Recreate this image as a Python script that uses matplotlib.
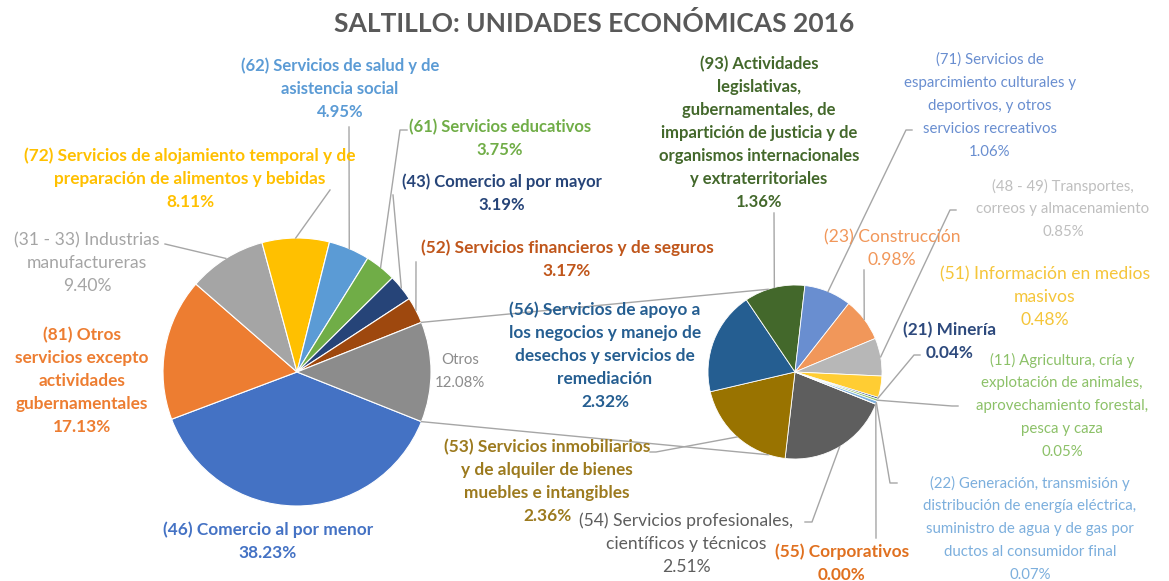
import numpy as np
import matplotlib.pyplot as plt

plt.rcParams['font.family'] = ['Lato', 'DejaVu Sans']

W, H = 1169, 581

# pastel principal (sentido horario, empezando bajo "Otros")
main_names = [
    '(46) Comercio al por menor',
    '(81) Otros\nservicios excepto\nactividades\ngubernamentales',
    '(31 - 33) Industrias\nmanufactureras',
    '(72) Servicios de alojamiento temporal y de\npreparación de alimentos y bebidas',
    '(62) Servicios de salud y de\nasistencia social',
    '(61) Servicios educativos',
    '(43) Comercio al por mayor',
    '(52) Servicios financieros y de seguros',
]
main_vals = [38.23, 17.13, 9.40, 8.11, 4.95, 3.75, 3.19, 3.17]
main_colors = ['#4472C4', '#ED7D31', '#A5A5A5', '#FFC000',
               '#5B9BD5', '#70AD47', '#264478', '#9E480E']
main_text_colors = ['#4472C4', '#ED7D31', '#A5A5A5', '#FFC000',
                    '#5B9BD5', '#70AD47', '#264478', '#C0561B']

otros_name = 'Otros'
otros_color = '#8C8C8C'

# pastel secundario: desglose de "Otros"
sec_names = [
    '(54) Servicios profesionales,\ncientíficos y técnicos',
    '(53) Servicios inmobiliarios\ny de alquiler de bienes\nmuebles e intangibles',
    '(56) Servicios de apoyo a\nlos negocios y manejo de\ndesechos y servicios de\nremediación',
    '(93) Actividades\nlegislativas,\ngubernamentales, de\nimpartición de justicia y de\norganismos internacionales\ny extraterritoriales',
    '(71) Servicios de\nesparcimiento culturales y\ndeportivos, y otros\nservicios recreativos',
    '(23) Construcción',
    '(48 - 49) Transportes,\ncorreos y almacenamiento',
    '(51) Información en medios\nmasivos',
    '(21) Minería',
    '(11) Agricultura, cría y\nexplotación de animales,\naprovechamiento forestal,\npesca y caza',
    '(22) Generación, transmisión y\ndistribución de energía eléctrica,\nsuministro de agua y de gas por\nductos al consumidor final',
    '(55) Corporativos',
]
sec_vals = [2.51, 2.36, 2.32, 1.36, 1.06, 0.98, 0.85, 0.48, 0.04, 0.05, 0.07, 0.00]
sec_colors = ['#5E5E5E', '#997300', '#255E91', '#43682B', '#698ED0', '#F1975A',
              '#B7B7B7', '#FFCD33', '#2F4F80', '#8CC168', '#7CAFDD', '#D46B25']
sec_text_colors = ['#5E5E5E', '#9C7A1E', '#255E91', '#43682B', '#698ED0', '#F1975A',
                   '#BFBFBF', '#F5C53A', '#2E4A7D', '#8CC168', '#7CAFDD', '#E0701F']

# etiquetas: (x centro, y primera linea, tamaño, negrita)
main_label_pos = [(268, 530, 12.4, True), (82, 335, 12.4, True), (87, 240, 12.6, False),
                  (190, 156, 12.4, True), (340, 66, 12.0, True), (500, 127, 12.0, True),
                  (502, 182, 12.0, True), (567, 248, 12.4, True)]
otros_label_pos = (460, 360, 10.8, False)
sec_label_pos = [(686, 521, 12.6, False), (547, 447, 12.4, True), (605, 310, 12.4, True),
                 (759, 64, 12.0, True), (990, 60, 10.8, False), (892, 237, 12.6, False),
                 (1063, 186, 10.8, False), (1045, 274, 12.6, False), (950, 330, 12.4, True),
                 (1062, 360, 10.8, False), (1030, 483, 10.8, False), (842, 552, 12.4, True)]

# lineas guia: puntos tras el borde de la rebanada
main_leaders = [[], [], [(165, 244)], [(330, 190)], [(349, 127)],
                [(400, 130), (407, 130)], [(393, 195)], [(416, 262)]]
sec_leaders = [[(812, 522), (805, 522)], [(656, 452), (650, 452)], [], [(774, 213)],
               [(906, 130), (912, 130)], [(864, 270)], [(950, 210), (956, 210)], [],
               [(914, 355), (920, 355)], [(952, 406), (958, 406)],
               [(890, 483), (897, 483)], [(876, 538)]]

main_c, main_r = (297, 372), 134
sec_c, sec_r = (795, 372), 87
line_gap = 23
leader_color = '#A6A6A6'


def Y(y):
    return H - y


def put_label(x, y0, text, color, size, bold):
    for i, line in enumerate(text.split('\n')):
        ax.text(x, Y(y0 + i * line_gap), line, ha='center', va='center',
                fontsize=size, color=color,
                fontweight='bold' if bold else 'normal')


def edge_point(center, r, ang):
    a = np.deg2rad(ang)
    return center[0] + r * np.cos(a), Y(center[1]) + r * np.sin(a)


fig = plt.figure(figsize=(W / 100, H / 100), dpi=100)
ax = fig.add_axes([0, 0, 1, 1])

otros_val = sum(sec_vals)
all_main = main_vals + [otros_val]
half = otros_val / sum(all_main) * 180

wedges_main, _ = ax.pie(all_main, colors=main_colors + [otros_color],
                        startangle=-half, counterclock=False,
                        center=(main_c[0], Y(main_c[1])), radius=main_r,
                        wedgeprops=dict(edgecolor='white', linewidth=0.8),
                        frame=True)
wedges_sec, _ = ax.pie(sec_vals, colors=sec_colors,
                       startangle=-half, counterclock=False,
                       center=(sec_c[0], Y(sec_c[1])), radius=sec_r,
                       wedgeprops=dict(edgecolor='white', linewidth=0.6),
                       frame=True)
ax.set_xlim(0, W)
ax.set_ylim(0, H)
ax.set_aspect('equal')
ax.axis('off')

# lineas de union entre ambos pasteles
for sgn in (1, -1):
    p0 = edge_point(main_c, main_r, sgn * half)
    p1 = edge_point(sec_c, sec_r, sgn * 108)
    ax.plot([p0[0], p1[0]], [p0[1], p1[1]], color=leader_color, lw=1)


def draw_leader(w, center, r, pts):
    if not pts:
        return
    mid = (w.theta1 + w.theta2) / 2
    p = edge_point(center, r, mid)
    xs = [p[0]] + [q[0] for q in pts]
    ys = [p[1]] + [Y(q[1]) for q in pts]
    ax.plot(xs, ys, color=leader_color, lw=1)


for i, w in enumerate(wedges_main[:-1]):
    draw_leader(w, main_c, main_r, main_leaders[i])
    x, y0, s, b = main_label_pos[i]
    put_label(x, y0, f'{main_names[i]}\n{main_vals[i]:.2f}%', main_text_colors[i], s, b)

x, y0, s, b = otros_label_pos
put_label(x, y0, f'{otros_name}\n{otros_val:.2f}%', otros_color, s, b)

for i, w in enumerate(wedges_sec):
    draw_leader(w, sec_c, sec_r, sec_leaders[i])
    x, y0, s, b = sec_label_pos[i]
    put_label(x, y0, f'{sec_names[i]}\n{sec_vals[i]:.2f}%', sec_text_colors[i], s, b)

ax.text(594, Y(23), 'SALTILLO: UNIDADES ECONÓMICAS 2016', ha='center', va='center',
        fontsize=19, fontweight='bold', color='#595959')

fig.savefig('out.png', dpi=100, facecolor='white')
